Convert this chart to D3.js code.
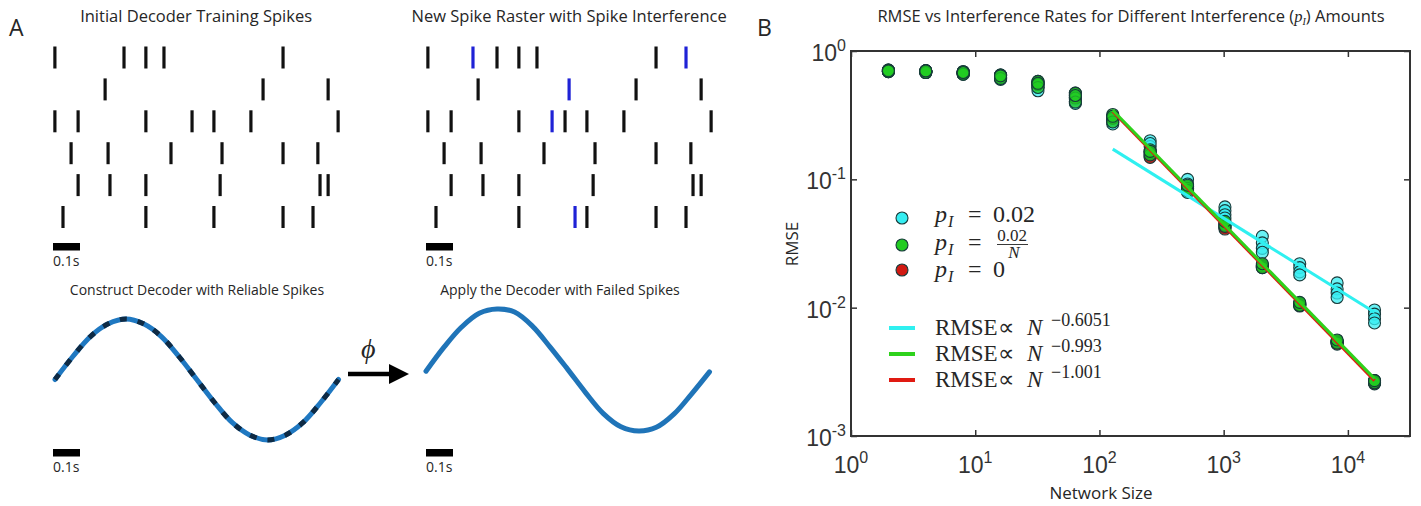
<!DOCTYPE html>
<html lang="en">
<head>
<meta charset="UTF-8">
<title>Spike interference and RMSE</title>
<script src="https://d3js.org/d3.v7.min.js"></script>
<style>
  body { margin: 0; background: #fff; }
  text { font-family: "Open Sans", sans-serif; fill: #262626; }
  .math { font-family: "Liberation Serif", serif; }
  .tick-lab { font-family: "Liberation Sans", Arial, sans-serif; fill: #333; }
</style>
</head>
<body>
<svg id="fig" width="1421" height="506"></svg>
<script>
// ---- panel A data ----
// spike times (s) per neuron, read off the raster
var spikeRows = [
  [0.007, 0.263, 0.344, 0.411, 0.852],
  [0.193, 0.778, 1.019],
  [0.007, 0.093, 0.344, 0.515, 0.596, 0.733, 1.056],
  [0.067, 0.204, 0.437, 0.626, 0.852, 0.981],
  [0.093, 0.211, 0.344, 0.619, 0.989, 1.019],
  [0.037, 0.344, 0.596, 0.852, 0.963]
];
// interference spikes added in the second raster: [row, time]
var extraSpikes = [[0, 0.174], [0, 0.963], [1, 0.530], [2, 0.467], [5, 0.552]];

// decoded signal samples (time s, normalised amplitude)
var sigT = [0, 0.066, 0.131, 0.197, 0.263, 0.328, 0.394, 0.459, 0.525,
            0.591, 0.656, 0.722, 0.788, 0.853, 0.919, 0.984, 1.05];
var sigReliable = [0, 0.38, 0.71, 0.92, 1.0, 0.92, 0.71, 0.38, 0,
                   -0.38, -0.71, -0.92, -1.0, -0.92, -0.71, -0.38, 0];
var sigFailed = [-0.02, 0.37, 0.70, 0.93, 1.0, 0.95, 0.72, 0.38, 0.01,
                 -0.37, -0.71, -0.93, -1.0, -0.94, -0.72, -0.39, -0.03];

// ---- panel B data ----
var networkSizes = [2, 4, 8, 16, 32, 64, 128, 256, 512, 1024, 2048, 4096, 8192, 16384];
// four trials per network size
var rmseConst = [   // p_I = 0.02
  [0.70, 0.69, 0.71, 0.70], [0.69, 0.70, 0.68, 0.70], [0.67, 0.69, 0.66, 0.68],
  [0.62, 0.65, 0.60, 0.64], [0.57, 0.52, 0.49, 0.55], [0.46, 0.42, 0.39, 0.44],
  [0.31, 0.29, 0.27, 0.30], [0.20, 0.18, 0.165, 0.19], [0.10, 0.092, 0.085, 0.079],
  [0.061, 0.057, 0.053, 0.050], [0.036, 0.032, 0.029, 0.027], [0.022, 0.0205, 0.019, 0.018],
  [0.0156, 0.014, 0.013, 0.012], [0.0096, 0.0089, 0.0082, 0.0076]
];
var rmseScaled = [  // p_I = 0.02/N
  [0.70, 0.69, 0.71, 0.70], [0.69, 0.70, 0.68, 0.70], [0.67, 0.69, 0.66, 0.68],
  [0.62, 0.65, 0.61, 0.64], [0.58, 0.55, 0.52, 0.56], [0.47, 0.43, 0.40, 0.45],
  [0.32, 0.30, 0.28, 0.31], [0.17, 0.16, 0.155, 0.165], [0.088, 0.085, 0.082, 0.090],
  [0.046, 0.044, 0.043, 0.047], [0.0215, 0.021, 0.0205, 0.022], [0.0108, 0.0106, 0.0104, 0.011],
  [0.0055, 0.0054, 0.0053, 0.0056], [0.0027, 0.00265, 0.0026, 0.0027]
];
var rmseZero = [    // p_I = 0
  [0.70, 0.69, 0.71, 0.70], [0.69, 0.70, 0.68, 0.70], [0.67, 0.69, 0.66, 0.68],
  [0.62, 0.65, 0.61, 0.64], [0.58, 0.55, 0.52, 0.56], [0.47, 0.43, 0.40, 0.45],
  [0.31, 0.29, 0.28, 0.30], [0.155, 0.15, 0.148, 0.16], [0.086, 0.083, 0.080, 0.088],
  [0.043, 0.042, 0.041, 0.045], [0.021, 0.0208, 0.0205, 0.0215], [0.0106, 0.0105, 0.0103, 0.0108],
  [0.0054, 0.0053, 0.0052, 0.0055], [0.0026, 0.0026, 0.00255, 0.0027]
];
// fitted power laws, drawn between their end points
var fitConst = [[128, 0.172], [16384, 0.0092]];
var fitScaled = [[128, 0.345], [16384, 0.0028]];
var fitZero = [[128, 0.338], [16384, 0.0027]];
var fitExponents = ["\u22120.6051", "\u22120.993", "\u22121.001"];
var xTicks = [1, 10, 100, 1000, 10000];
var yTicks = [1, 0.1, 0.01, 0.001];

var svg = d3.select("#fig");

// panel letters
svg.append("text").attr("x", 9).attr("y", 36).style("font-size", "23px").text("A");
svg.append("text").attr("x", 757).attr("y", 36).style("font-size", "23px").text("B");

// ---------- rasters ----------
var rowY = d3.scalePoint().domain(d3.range(spikeRows.length)).range([57.5, 217]);
var xRasterL = d3.scaleLinear().domain([0, 1]).range([53, 323]);
var xRasterR = d3.scaleLinear().domain([0, 1]).range([426, 696]);

function raster(xs, title, withExtra) {
  var g = svg.append("g");
  g.append("text")
    .attr("x", xs(0.53)).attr("y", 22)
    .attr("text-anchor", "middle")
    .style("font-size", "16.5px")
    .text(title);

  var flat = [];
  spikeRows.forEach(function (row, i) {
    row.forEach(function (t) { flat.push({ row: i, t: t, extra: false }); });
  });
  if (withExtra) {
    extraSpikes.forEach(function (d) { flat.push({ row: d[0], t: d[1], extra: true }); });
  }
  g.selectAll(".spike")
    .data(flat)
    .enter()
    .append("line")
    .attr("class", "spike")
    .attr("x1", function (d) { return xs(d.t); })
    .attr("x2", function (d) { return xs(d.t); })
    .attr("y1", function (d) { return rowY(d.row) - 11; })
    .attr("y2", function (d) { return rowY(d.row) + 11; })
    .attr("stroke", function (d) { return d.extra ? "#1f22d6" : "#111"; })
    .attr("stroke-width", 3.2);

  scaleBar(g, xs, 243);
}

function scaleBar(g, xs, y0) {
  g.append("rect")
    .attr("x", xs(0)).attr("y", y0)
    .attr("width", xs(0.1) - xs(0)).attr("height", 7.5)
    .attr("fill", "#000");
  g.append("text")
    .attr("x", xs(0)).attr("y", y0 + 23)
    .style("font-size", "14px")
    .text("0.1s");
}

raster(xRasterL, "Initial Decoder Training Spikes", false);
raster(xRasterR, "New Spike Raster with Spike Interference", true);

// ---------- decoded signals ----------
var xSigL = d3.scaleLinear().domain([0, 1]).range([55, 325]);
var xSigR = d3.scaleLinear().domain([0, 1]).range([426, 696]);
var ySigL = d3.scaleLinear().domain([-1, 1]).range([440, 319]);
var ySigR = d3.scaleLinear().domain([-1, 1]).range([431, 309]);

function signalLine(xs, ys) {
  return d3.line()
    .x(function (d) { return xs(d[0]); })
    .y(function (d) { return ys(d[1]); })
    .curve(d3.curveCatmullRom);
}

var relPts = sigT.map(function (t, i) { return [t, sigReliable[i]]; });
var failPts = sigT.map(function (t, i) { return [t, sigFailed[i]]; });

var gl = svg.append("g");
gl.append("text").attr("x", 197).attr("y", 295).attr("text-anchor", "middle")
  .style("font-size", "14px").text("Construct Decoder with Reliable Spikes");
gl.append("path").datum(relPts)
  .attr("d", signalLine(xSigL, ySigL))
  .attr("fill", "none").attr("stroke", "#1f78c1").attr("stroke-width", 5)
  .attr("stroke-linecap", "round");
gl.append("path").datum(relPts)
  .attr("d", signalLine(xSigL, ySigL))
  .attr("fill", "none").attr("stroke", "#0e2a44").attr("stroke-width", 5)
  .attr("stroke-dasharray", "7,11");
scaleBar(gl, xRasterL, 449);

var gr = svg.append("g");
gr.append("text").attr("x", 560).attr("y", 295).attr("text-anchor", "middle")
  .style("font-size", "14px").text("Apply the Decoder with Failed Spikes");
gr.append("path").datum(failPts)
  .attr("d", signalLine(xSigR, ySigR))
  .attr("fill", "none").attr("stroke", "#1f74b8").attr("stroke-width", 5)
  .attr("stroke-linecap", "round");
scaleBar(gr, xRasterR, 449);

// arrow with phi
svg.append("line").attr("x1", 348).attr("x2", 392).attr("y1", 374).attr("y2", 374)
  .attr("stroke", "#000").attr("stroke-width", 4.5);
svg.append("path").attr("d", "M389,364 L409,374 L389,384 Z").attr("fill", "#000");
svg.append("text").attr("class", "math").attr("x", 361).attr("y", 358)
  .style("font-size", "28px").style("font-style", "italic").text("\u03D5");

// ---------- panel B ----------
var x = d3.scaleLog().domain([1, Math.pow(10, 4.5)]).range([851, 1410]);
var y = d3.scaleLog().domain([1e-3, 1]).range([436, 51]);

var title = svg.append("text").attr("x", 1131).attr("y", 22).attr("text-anchor", "middle")
  .style("font-size", "16.5px");
title.append("tspan").text("RMSE vs Interference Rates for Different Interference (");
title.append("tspan").attr("class", "math").style("font-style", "italic").text("p");
title.append("tspan").attr("class", "math").style("font-style", "italic")
  .style("font-size", "10px").attr("dy", 3).text("I");
title.append("tspan").attr("dy", -3).text(") Amounts");

var gB = svg.append("g");

// inward ticks on all four sides
gB.append("g").attr("transform", "translate(0,436)")
  .call(d3.axisBottom(x).tickValues(xTicks).tickSize(-6).tickFormat(""))
  .call(function (g) { g.select(".domain").remove(); });
gB.append("g").attr("transform", "translate(0,51)")
  .call(d3.axisTop(x).tickValues(xTicks).tickSize(-6).tickFormat(""))
  .call(function (g) { g.select(".domain").remove(); });
gB.append("g").attr("transform", "translate(851,0)")
  .call(d3.axisLeft(y).tickValues(yTicks).tickSize(-6).tickFormat(""))
  .call(function (g) { g.select(".domain").remove(); });
gB.append("g").attr("transform", "translate(1410,0)")
  .call(d3.axisRight(y).tickValues(yTicks).tickSize(-6).tickFormat(""))
  .call(function (g) { g.select(".domain").remove(); });
gB.selectAll(".tick line").attr("stroke", "#333").attr("stroke-width", 1.5);

gB.append("rect").attr("x", 851).attr("y", 51).attr("width", 1410 - 851).attr("height", 436 - 51)
  .attr("fill", "none").attr("stroke", "#333").attr("stroke-width", 2);

function powLabel(sel, exp) {
  sel.append("tspan").text("10");
  sel.append("tspan").attr("dy", -10).style("font-size", "16px").text(exp);
}
xTicks.forEach(function (v) {
  var t = gB.append("text").attr("class", "tick-lab").attr("x", x(v)).attr("y", 473)
    .attr("text-anchor", "middle").style("font-size", "23px");
  powLabel(t, String(Math.round(Math.log10(v))));
});
yTicks.forEach(function (v) {
  var t = gB.append("text").attr("class", "tick-lab").attr("x", 846).attr("y", y(v) + 10)
    .attr("text-anchor", "end").style("font-size", "23px");
  powLabel(t, String(Math.round(Math.log10(v))));
});

gB.append("text").attr("transform", "translate(798,244) rotate(-90)")
  .attr("text-anchor", "middle").style("font-size", "17px").text("RMSE");
gB.append("text").attr("x", 1101).attr("y", 499)
  .attr("text-anchor", "middle").style("font-size", "17px").text("Network Size");

// scatter
function flatten(vals) {
  var out = [];
  vals.forEach(function (trials, i) {
    trials.forEach(function (v) { out.push([networkSizes[i], v]); });
  });
  return out;
}
var series = [
  { vals: rmseZero, fill: "#d11a12" },
  { vals: rmseConst, fill: "#35eef2" },
  { vals: rmseScaled, fill: "#22cc22" }
];
series.forEach(function (s) {
  gB.append("g").selectAll("circle")
    .data(flatten(s.vals))
    .enter()
    .append("circle")
    .attr("cx", function (d) { return x(d[0]); })
    .attr("cy", function (d) { return y(d[1]); })
    .attr("r", 6)
    .attr("fill", s.fill)
    .attr("fill-opacity", 0.75)
    .attr("stroke", "#173a3a")
    .attr("stroke-width", 1.1);
});

var fitLine = d3.line()
  .x(function (d) { return x(d[0]); })
  .y(function (d) { return y(d[1]); });
[[fitConst, "#2ff0f0"], [fitZero, "#e01a12"], [fitScaled, "#2ed21c"]].forEach(function (f) {
  gB.append("path").datum(f[0]).attr("d", fitLine)
    .attr("fill", "none").attr("stroke", f[1]).attr("stroke-width", 3);
});

// legend: markers
var markLeg = [
  { fill: "#35eef2", y: 218 },
  { fill: "#22cc22", y: 245 },
  { fill: "#d11a12", y: 270 }
];
gB.selectAll(".legmark").data(markLeg).enter().append("circle")
  .attr("cx", 902).attr("cy", function (d) { return d.y; }).attr("r", 6)
  .attr("fill", function (d) { return d.fill; })
  .attr("stroke", "#173a3a").attr("stroke-width", 1.1);

function pI(yb, rest) {
  var t = gB.append("text").attr("class", "math").attr("y", yb).style("font-size", "24px");
  t.append("tspan").attr("x", 935).style("font-style", "italic").text("p");
  t.append("tspan").attr("x", 948).attr("dy", 5).style("font-style", "italic")
    .style("font-size", "16px").text("I");
  t.append("tspan").attr("x", 968).attr("dy", -5).text("=");
  if (rest) t.append("tspan").attr("x", 993).text(rest);
}
pI(222, "0.02");
pI(250, "");
gB.append("text").attr("class", "math").attr("x", 1012).attr("y", 241)
  .attr("text-anchor", "middle").style("font-size", "17px").text("0.02");
gB.append("line").attr("x1", 997).attr("x2", 1028).attr("y1", 244.5).attr("y2", 244.5)
  .attr("stroke", "#222").attr("stroke-width", 0.9);
gB.append("text").attr("class", "math").attr("x", 1014).attr("y", 258)
  .attr("text-anchor", "middle").style("font-size", "17px").style("font-style", "italic").text("N");
pI(277, "0");

// legend: fit lines
var lineLeg = [
  { color: "#2ff0f0", y: 328 },
  { color: "#2ed21c", y: 354 },
  { color: "#e01a12", y: 380 }
];
lineLeg.forEach(function (d, i) {
  gB.append("line").attr("x1", 889).attr("x2", 915).attr("y1", d.y).attr("y2", d.y)
    .attr("stroke", d.color).attr("stroke-width", 4);
  var t = gB.append("text").attr("class", "math").attr("y", d.y + 7).style("font-size", "23px");
  t.append("tspan").attr("x", 935).text("RMSE\u221D");
  t.append("tspan").attr("x", 1027).style("font-style", "italic").text("N");
  t.append("tspan").attr("x", 1051).attr("dy", -9).style("font-size", "18px").text(fitExponents[i]);
});
</script>
</body>
</html>
